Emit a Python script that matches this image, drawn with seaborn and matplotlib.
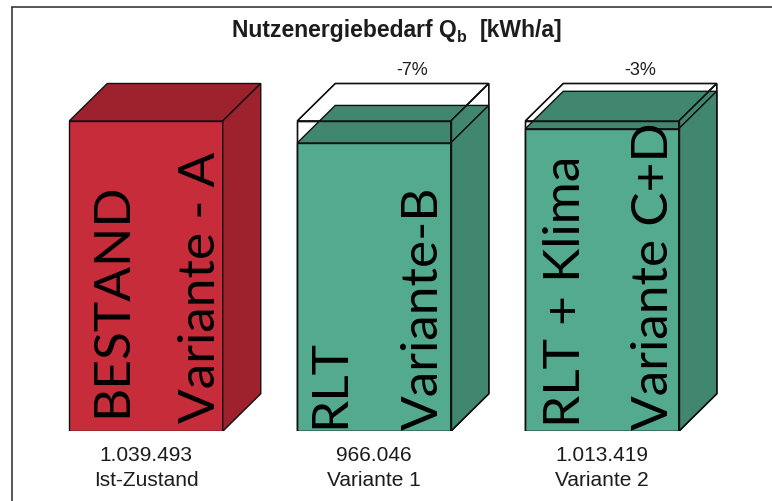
import matplotlib
matplotlib.use("Agg")
import matplotlib.pyplot as plt
import pandas as pd
import seaborn as sns
from matplotlib.patches import Polygon
from matplotlib.lines import Line2D

# --- data -------------------------------------------------------------
categories = ["Ist-Zustand", "Variante 1", "Variante 2"]
values = [1039493, 966046, 1013419]          # Nutzenergiebedarf in kWh/a
bar_line1 = ["BESTAND", "RLT", "RLT + Klima"]
bar_line2 = ["Variante - A", "Variante-B", "Variante C+D"]
title_main = "Nutzenergiebedarf Q"
title_sub = "b"
title_unit = "[kWh/a]"

# --- styling ----------------------------------------------------------
front_colors = ["#C62C39", "#54AA8E", "#54AA8E"]
shade_colors = ["#9D222D", "#418770", "#418770"]
EDGE = "#111111"
TEXT = "#1c1c1c"

W, H = 772, 502
sns.set_theme(style="white")
plt.rcParams["font.family"] = ["Liberation Sans Narrow", "Liberation Sans", "DejaVu Sans"]

fig = plt.figure(figsize=(W / 100, H / 100), dpi=100)
fig.patch.set_facecolor("white")


def fpx(x, y):
    """pixel position (from top-left) -> figure fraction"""
    return x / W, 1 - y / H


# axes: baseline of the bars at y=432 px, horizontal pitch 228 px per category
base_px, top_px = 432.3, 40.0
ax = fig.add_axes([0, (H - base_px) / H, 1, (base_px - top_px) / H])
ax.set_facecolor("none")

df = pd.DataFrame({"Zustand": categories, "Qb": values})
sns.barplot(data=df, x="Zustand", y="Qb", hue="Zustand", palette=front_colors,
            saturation=1, width=153.5 / 228, edgecolor=EDGE, linewidth=1.0,
            legend=False, ax=ax, zorder=2)

pitch = 228.0
ax.set_xlim(-146.0 / pitch, (W - 146.0) / pitch)
ax.set_ylim(0, values[0] * (base_px - top_px) / 310.3)
ax.axis("off")

# depth of the 3D boxes in data units
p0 = ax.transData.transform((0, 0))
inv = ax.transData.inverted()
dx, dy = inv.transform(p0 + [38.0, 37.5]) - inv.transform(p0)
px_y = lambda n: (inv.transform(p0 + [0, n]) - inv.transform(p0))[1]
px_x = lambda n: (inv.transform(p0 + [n, 0]) - inv.transform(p0))[0]

patches = sorted(ax.patches, key=lambda p: p.get_x())


def box_faces(x0, w, h):
    top = [(x0, h), (x0 + w, h), (x0 + w + dx, h + dy), (x0 + dx, h + dy)]
    side = [(x0 + w, 0), (x0 + w + dx, dy), (x0 + w + dx, h + dy), (x0 + w, h)]
    front = [(x0, 0), (x0 + w, 0), (x0 + w, h), (x0, h)]
    return front, top, side


ref = values[0]
for i, p in enumerate(patches):
    x0, w, h = p.get_x(), p.get_width(), p.get_height()
    front, top, side = box_faces(x0, w, h)
    if i > 0:
        # reference box (Ist-Zustand) as white wireframe behind the variant
        gf, gt, gs = box_faces(x0, w, ref)
        for poly in (gf, gt, gs):
            ax.add_patch(Polygon(poly, closed=True, facecolor="white",
                                 edgecolor=EDGE, linewidth=1.0, zorder=1))
        for poly in (gf, gt, gs):
            ax.add_patch(Polygon(poly, closed=True, fill=False,
                                 edgecolor=EDGE, linewidth=1.0, zorder=3))
        pct = round((values[i] / ref - 1) * 100)
        ax.text(x0 + w / 2 + dx, ref + dy + px_y(14), f"{pct:.0f}%",
                ha="center", va="center", fontsize=13, color=TEXT, zorder=5)
    for poly in (top, side):
        ax.add_patch(Polygon(poly, closed=True, facecolor=shade_colors[i],
                             edgecolor=EDGE, linewidth=1.0, zorder=2))

    # labels under the boxes
    lab = f"{values[i]:,}".replace(",", ".")
    ax.annotate(lab, (x0 + w / 2, 0), xytext=(0, -16.5), textcoords="offset points",
                ha="center", va="center", fontsize=15, color=TEXT)
    ax.annotate(categories[i], (x0 + w / 2, 0), xytext=(0, -34.5),
                textcoords="offset points", ha="center", va="center",
                fontsize=15, color=TEXT)

# rotated captions inside the boxes (baseline offsets from front-left edge, px)
line1_off = [(57, 15), (47, 4), (55, 5)]
line2_off = [(146, 9), (141, 2), (143, 2)]
for i, p in enumerate(patches):
    x0 = p.get_x()
    for txt, (ox, oy) in ((bar_line1[i], line1_off[i]), (bar_line2[i], line2_off[i])):
        ax.text(x0 + px_x(ox), px_y(oy), txt, rotation=90, rotation_mode="anchor",
                ha="left", va="baseline", fontsize=37, color="black",
                family=["Lato", "DejaVu Sans"], zorder=6)

# title with subscript
r = fig.canvas.get_renderer()
tx, ty = fpx(232, 37)
t1 = fig.text(tx, ty, title_main, ha="left", va="baseline", fontsize=16.5,
              fontweight="bold", color=TEXT)
bb = t1.get_window_extent(r)
t2 = fig.text(bb.x1 / W, ty - 5 / H, title_sub, ha="left", va="baseline",
              fontsize=11.5, fontweight="bold", color=TEXT)
bb2 = t2.get_window_extent(r)
fig.text(bb2.x1 / W + 13 / W, ty, title_unit, ha="left", va="baseline",
         fontsize=16.5, fontweight="bold", color=TEXT)

# frame of the chart area
lx, ty0 = fpx(12.5, 8)
fig.add_artist(Line2D([lx, lx], [0, ty0], color="#3a3a3a", linewidth=1.2))
fig.add_artist(Line2D([lx, 1], [ty0, ty0], color="#3a3a3a", linewidth=1.2))

fig.savefig("out.png", dpi=100, facecolor="white")
